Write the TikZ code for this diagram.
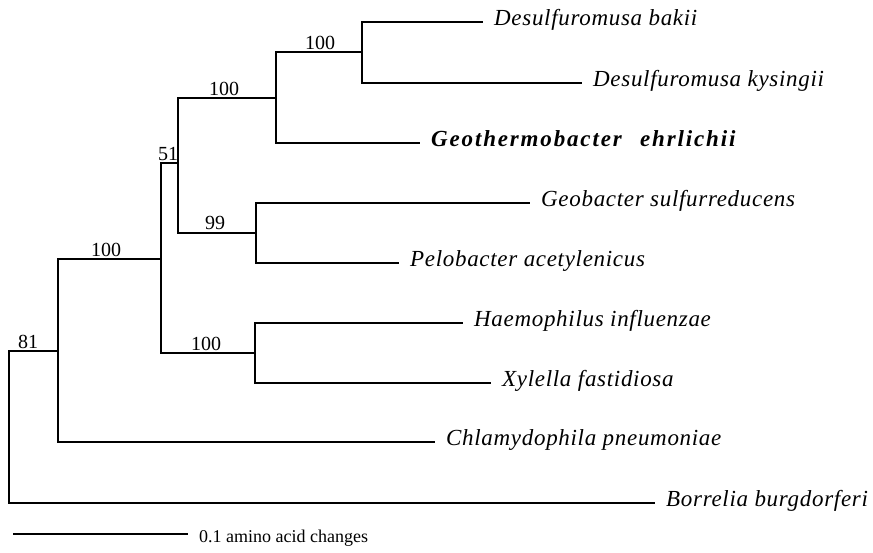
\documentclass[tikz,border=0pt]{standalone}
\usepackage{fontspec}
\setmainfont{Liberation Serif}
\begin{document}
\begin{tikzpicture}[x=1pt,y=-1pt,
  br/.style={line width=1.3pt},
  leaf/.style={anchor=west, inner xsep=11pt, inner ysep=0pt,
    font=\fontsize{23}{26}\selectfont\itshape\addfontfeature{LetterSpace=3},
    text height=0.68em, text depth=0pt},
  boldleaf/.style={leaf, font=\fontsize{23}{26}\selectfont\bfseries\itshape\addfontfeature{LetterSpace=8}},
  lab/.style={anchor=base, inner sep=0pt, font=\fontsize{20}{24}\selectfont},
  scaletext/.style={anchor=west, inner xsep=11pt, inner ysep=0pt,
    font=\fontsize{18}{22}\selectfont, text height=0.68em, text depth=0pt}
]
\useasboundingbox (0,0) rectangle (873,552);

% internal nodes
\coordinate (R) at (9,427);
\coordinate (n58) at (58,351);
\coordinate (n161) at (161,259);
\coordinate (n178) at (178,163);
\coordinate (n276) at (276,98);
\coordinate (n362) at (362,52);
\coordinate (n256) at (256,233);
\coordinate (n255) at (255,353);

% leaves
\node[leaf] (bakii) at (483,22) {Desulfuromusa bakii};
\node[leaf] (kysingii) at (582,83) {Desulfuromusa kysingii};
\node[boldleaf] (ehrl) at (420,143) {Geothermobacter\hspace{0.8em}ehrlichii};
\node[leaf] (geob) at (530,203) {Geobacter sulfurreducens};
\node[leaf] (pelo) at (399,263) {Pelobacter acetylenicus};
\node[leaf] (haem) at (463,323) {Haemophilus influenzae};
\node[leaf] (xyl) at (491,383) {Xylella fastidiosa};
\node[leaf] (chla) at (435,442) {Chlamydophila pneumoniae};
\node[leaf] (borr) at (655,503) {Borrelia burgdorferi};

% branches
\draw[br] (R) |- (n58);
\draw[br] (R) |- (borr.west);
\draw[br] (n58) |- (n161);
\draw[br] (n58) |- (chla.west);
\draw[br] (n161) |- (n178);
\draw[br] (n161) |- (n255);
\draw[br] (n178) |- (n276);
\draw[br] (n178) |- (n256);
\draw[br] (n276) |- (n362);
\draw[br] (n276) |- (ehrl.west);
\draw[br] (n362) |- (bakii.west);
\draw[br] (n362) |- (kysingii.west);
\draw[br] (n256) |- (geob.west);
\draw[br] (n256) |- (pelo.west);
\draw[br] (n255) |- (haem.west);
\draw[br] (n255) |- (xyl.west);

% bootstrap labels
\node[lab] (b81) at (28,348) {81};
\node[lab] (b100a) at (106,256) {100};
\node[lab] (b51) at (168,160) {51};
\node[lab] (b100b) at (206,350) {100};
\node[lab] (b100c) at (224,95) {100};
\node[lab] (b99) at (215,229) {99};
\node[lab] (b100d) at (320,49) {100};

% scale bar
\coordinate (s0) at (13,534);
\node[scaletext] (scl) at (188,539) {0.1 amino acid changes};
\draw[br] (s0) -- (s0 -| scl.west);
\end{tikzpicture}
\end{document}
